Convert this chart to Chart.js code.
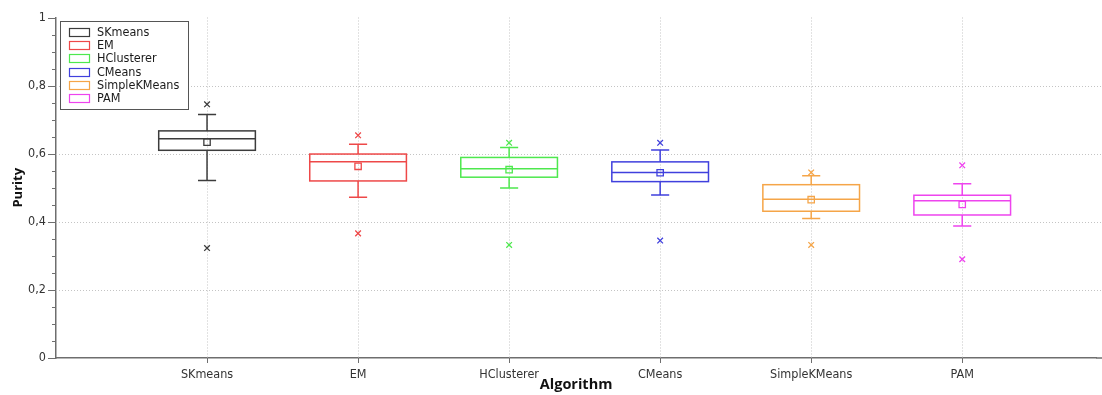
<!DOCTYPE html>
<html>
<head>
<meta charset="utf-8">
<script src="https://cdn.jsdelivr.net/npm/chart.js@4.4.1/dist/chart.umd.min.js"></script>
<style>
  html, body { margin: 0; padding: 0; background: #ffffff; }
  #wrap { width: 1102px; height: 395px; position: relative; }
</style>
</head>
<body>
<div id="wrap"><canvas id="c" width="1102" height="395"></canvas></div>
<script>
// ---- data ----
const categories   = ['SKmeans', 'EM', 'HClusterer', 'CMeans', 'SimpleKMeans', 'PAM'];
const whiskerLow   = [0.521, 0.472, 0.499, 0.479, 0.410, 0.388];
const q1Values     = [0.610, 0.520, 0.531, 0.518, 0.431, 0.420];
const medianValues = [0.644, 0.576, 0.556, 0.545, 0.466, 0.462];
const q3Values     = [0.667, 0.599, 0.589, 0.576, 0.509, 0.478];
const whiskerHigh  = [0.715, 0.628, 0.618, 0.611, 0.535, 0.512];
const meanValues   = [0.634, 0.563, 0.553, 0.544, 0.465, 0.451];
const outlierHigh  = [0.745, 0.654, 0.632, 0.632, 0.545, 0.566];
const outlierLow   = [0.323, 0.366, 0.332, 0.345, 0.332, 0.290];
const yTickLabels  = ['0', '0,2', '0,4', '0,6', '0,8', '1'];
const seriesColors = ['#3c3c3c', '#ee4848', '#4ee84e', '#4040dd', '#f5a548', '#ee44ee'];

const datasets = categories.map((name, i) => ({
  label: name,
  data: [
    { x: i + 1, y: meanValues[i] },
    { x: i + 1, y: outlierHigh[i] },
    { x: i + 1, y: outlierLow[i] }
  ],
  borderColor: seriesColors[i],
  backgroundColor: 'rgba(0,0,0,0)',
  pointStyle: ['rect', 'crossRot', 'crossRot'],
  pointRadius: [4.5, 4.0, 4.0],
  pointBorderWidth: 1.3,
  pointHoverRadius: [4.5, 4.0, 4.0]
}));

const GRID = '#c4c4c4';
const AXIS = '#6e6e6e';
const FONT = '"DejaVu Sans Condensed", "DejaVu Sans"';

const boxPlugin = {
  id: 'boxes',
  beforeDatasetsDraw(chart) {
    const ctx = chart.ctx;
    const xs = chart.scales.x, ys = chart.scales.y;
    const area = chart.chartArea;
    ctx.save();
    // grid lines (dotted)
    ctx.strokeStyle = GRID;
    ctx.lineWidth = 1;
    ctx.setLineDash([1, 2]);
    for (let k = 1; k < yTickLabels.length - 1; k++) {
      const y = Math.round(ys.getPixelForValue(k * 0.2)) + 0.5;
      ctx.beginPath(); ctx.moveTo(area.left, y); ctx.lineTo(chart.width, y); ctx.stroke();
    }
    categories.forEach((c, i) => {
      const x = Math.round(xs.getPixelForValue(i + 1)) + 0.5;
      ctx.beginPath(); ctx.moveTo(x, area.top); ctx.lineTo(x, area.bottom); ctx.stroke();
    });
    ctx.setLineDash([]);
    // tick marks
    ctx.strokeStyle = AXIS;
    for (let k = 0; k <= 20; k++) {
      const y = Math.round(ys.getPixelForValue(k * 0.05)) + 0.5;
      const len = (k % 4 === 0) ? 8 : 4;
      ctx.beginPath(); ctx.moveTo(area.left - len, y); ctx.lineTo(area.left, y); ctx.stroke();
    }
    categories.forEach((c, i) => {
      const x = Math.round(xs.getPixelForValue(i + 1)) + 0.5;
      ctx.beginPath(); ctx.moveTo(x, area.bottom); ctx.lineTo(x, area.bottom + 5); ctx.stroke();
    });
    // x axis line to the right edge of the page
    ctx.lineWidth = 1.5;
    ctx.beginPath(); ctx.moveTo(area.right, area.bottom); ctx.lineTo(chart.width, area.bottom); ctx.stroke();
    // boxes
    ctx.lineWidth = 1.5;
    categories.forEach((c, i) => {
      const cx = xs.getPixelForValue(i + 1);
      const x0 = xs.getPixelForValue(i + 1 - 0.32), x1 = xs.getPixelForValue(i + 1 + 0.32);
      const c0 = xs.getPixelForValue(i + 1 - 0.06), c1 = xs.getPixelForValue(i + 1 + 0.06);
      const yq1 = ys.getPixelForValue(q1Values[i]);
      const yq3 = ys.getPixelForValue(q3Values[i]);
      const ym = ys.getPixelForValue(medianValues[i]);
      const ylo = ys.getPixelForValue(whiskerLow[i]);
      const yhi = ys.getPixelForValue(whiskerHigh[i]);
      ctx.strokeStyle = seriesColors[i];
      ctx.strokeRect(x0, yq3, x1 - x0, yq1 - yq3);
      ctx.beginPath();
      ctx.moveTo(x0, ym); ctx.lineTo(x1, ym);
      ctx.moveTo(cx, yq3); ctx.lineTo(cx, yhi);
      ctx.moveTo(c0, yhi); ctx.lineTo(c1, yhi);
      ctx.moveTo(cx, yq1); ctx.lineTo(cx, ylo);
      ctx.moveTo(c0, ylo); ctx.lineTo(c1, ylo);
      ctx.stroke();
    });
    ctx.restore();
  },
  afterDraw(chart) {
    // legend inside the plot area
    const ctx = chart.ctx;
    const area = chart.chartArea;
    const lx = area.left + 4, ly = area.top + 3;
    const rowH = 13.33;
    ctx.save();
    ctx.font = '12.5px ' + FONT;
    let maxW = 0;
    chart.data.datasets.forEach(d => { maxW = Math.max(maxW, ctx.measureText(d.label).width); });
    const w = 37 + maxW + 9, h = rowH * chart.data.datasets.length + 8;
    ctx.fillStyle = '#ffffff';
    ctx.fillRect(lx, ly, w, h);
    ctx.strokeStyle = '#555555';
    ctx.lineWidth = 1;
    ctx.strokeRect(Math.round(lx) + 0.5, Math.round(ly) + 0.5, Math.round(w), Math.round(h));
    ctx.textBaseline = 'middle';
    chart.data.datasets.forEach((d, i) => {
      const cy = ly + 11.3 + i * rowH;
      ctx.strokeStyle = d.borderColor;
      ctx.lineWidth = 1.2;
      ctx.strokeRect(lx + 9.5, Math.round(cy - 4) + 0.5, 20, 8);
      ctx.fillStyle = '#1a1a1a';
      ctx.fillText(d.label, lx + 37, cy + 0.5);
    });
    ctx.restore();
  }
};

new Chart(document.getElementById('c'), {
  type: 'scatter',
  data: { datasets },
  options: {
    responsive: false,
    animation: false,
    layout: { padding: { top: 13, right: 0, bottom: 0, left: 0 } },
    plugins: { legend: { display: false }, tooltip: { enabled: false } },
    scales: {
      x: {
        type: 'linear',
        min: 0,
        max: 6.887,
        afterBuildTicks: s => { s.ticks = categories.map((c, i) => ({ value: i + 1 })); },
        afterFit: s => { s.height = 37; },
        ticks: {
          autoSkip: false,
          maxRotation: 0,
          padding: 9,
          color: '#333333',
          font: { family: FONT, size: 12.5 },
          callback: v => categories[Math.round(v) - 1] || ''
        },
        grid: { display: false, drawTicks: false },
        border: { display: true, color: AXIS, width: 1.5 },
        title: {
          display: true,
          text: 'Algorithm',
          color: '#111111',
          font: { family: '"Open Sans"', size: 14.5, weight: 'bold' },
          padding: { top: 0, bottom: 1 }
        }
      },
      y: {
        type: 'linear',
        min: 0,
        max: 1,
        afterBuildTicks: s => { s.ticks = yTickLabels.map((t, k) => ({ value: k * 0.2 })); },
        afterFit: s => { s.width = 56; },
        ticks: {
          padding: 10,
          color: '#333333',
          font: { family: FONT, size: 12.5 },
          callback: (v, idx) => yTickLabels[Math.round(v / 0.2)]
        },
        grid: { display: false, drawTicks: false },
        border: { display: true, color: AXIS, width: 1.5 },
        title: {
          display: true,
          text: 'Purity',
          color: '#111111',
          font: { family: '"Open Sans"', size: 13, weight: 'bold' },
          padding: { top: 10, bottom: 0 }
        }
      }
    }
  },
  plugins: [boxPlugin]
});
</script>
</body>
</html>
